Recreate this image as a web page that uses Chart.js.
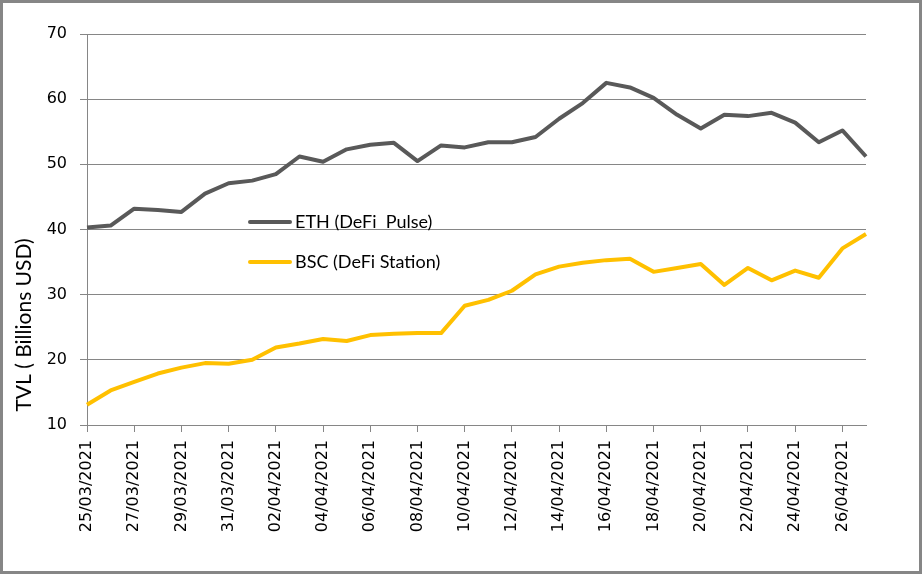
<!DOCTYPE html>
<html>
<head>
<meta charset="utf-8">
<script src="https://cdn.jsdelivr.net/npm/chart.js@4/dist/chart.umd.min.js"></script>
<style>
  html, body { margin: 0; padding: 0; background: #fff; }
  #wrap { width: 922px; height: 574px; position: relative; }
</style>
</head>
<body>
<div id="wrap"><canvas id="tvlChart" width="922" height="574"></canvas></div>
<script>
const dates = [
	'25/03/2021', '26/03/2021', '27/03/2021', '28/03/2021', '29/03/2021', '30/03/2021',
	'31/03/2021', '01/04/2021', '02/04/2021', '03/04/2021', '04/04/2021', '05/04/2021',
	'06/04/2021', '07/04/2021', '08/04/2021', '09/04/2021', '10/04/2021', '11/04/2021',
	'12/04/2021', '13/04/2021', '14/04/2021', '15/04/2021', '16/04/2021', '17/04/2021',
	'18/04/2021', '19/04/2021', '20/04/2021', '21/04/2021', '22/04/2021', '23/04/2021',
	'24/04/2021', '25/04/2021', '26/04/2021', '27/04/2021',
];

// TVL, billions USD
const ethTvl = [
	40.3, 40.6, 43.2, 43.0, 42.7, 45.5, 47.1, 47.5, 48.5, 51.2, 50.4, 52.3,
	53.0, 53.3, 50.5, 52.9, 52.6, 53.4, 53.4, 54.2, 57.0, 59.4, 62.5, 61.8,
	60.2, 57.6, 55.5, 57.6, 57.4, 57.9, 56.4, 53.4, 55.2, 51.2,
];
const bscTvl = [
	13.1, 15.3, 16.6, 17.9, 18.8, 19.5, 19.4, 20.0, 21.9, 22.5, 23.2, 22.9,
	23.8, 24.0, 24.1, 24.1, 28.3, 29.2, 30.6, 33.1, 34.3, 34.9, 35.3, 35.5,
	33.5, 34.1, 34.7, 31.5, 34.1, 32.2, 33.7, 32.6, 37.1, 39.3,
];

const yTicks = [10, 20, 30, 40, 50, 60, 70];
const axisGrey = '#868686';

// white background, outer frame, y title and the in-plot legend
const framePlugin = {
	id: 'frame',
	beforeDraw(chart) {
		const ctx = chart.ctx;
		ctx.save();
		ctx.fillStyle = '#fff';
		ctx.fillRect(0, 0, chart.width, chart.height);
		ctx.restore();
	},
	afterDraw(chart) {
		const ctx = chart.ctx;
		ctx.save();
		ctx.strokeStyle = axisGrey;
		ctx.lineWidth = 3;
		ctx.strokeRect(1.5, 1.5, chart.width - 3, chart.height - 3);

		ctx.fillStyle = '#000';
		ctx.font = '21px Lato';
		ctx.textAlign = 'center';
		ctx.textBaseline = 'middle';
		ctx.translate(24, 325);
		ctx.rotate(-Math.PI / 2);
		ctx.fillText('TVL ( Billions USD)', 0, 0);
		ctx.restore();

		ctx.save();
		const rows = [222, 262];
		chart.data.datasets.forEach(function(ds, i) {
			ctx.strokeStyle = ds.borderColor;
			ctx.lineWidth = ds.borderWidth;
			ctx.lineCap = 'round';
			ctx.beginPath();
			ctx.moveTo(250, rows[i]);
			ctx.lineTo(290, rows[i]);
			ctx.stroke();
			ctx.fillStyle = '#000';
			ctx.font = '18px Lato';
			ctx.textAlign = 'left';
			ctx.textBaseline = 'middle';
			ctx.fillText(ds.label, 295, rows[i]);
		});
		ctx.restore();
	}
};

const ctx = document.getElementById('tvlChart').getContext('2d');
const tvlChart = new Chart(ctx, {
	type: 'line',
	data: {
		labels: dates,
		datasets: [
			{
				label: 'ETH (DeFi  Pulse)',
				data: ethTvl,
				borderColor: '#595959',
				backgroundColor: '#595959',
				borderWidth: 4,
				pointRadius: 0,
				tension: 0,
				borderJoinStyle: 'round',
			},
			{
				label: 'BSC (DeFi Station)',
				data: bscTvl,
				borderColor: '#FFC000',
				backgroundColor: '#FFC000',
				borderWidth: 4,
				pointRadius: 0,
				tension: 0,
				borderJoinStyle: 'round',
			},
		],
	},
	options: {
		responsive: false,
		animation: false,
		devicePixelRatio: 1,
		layout: { padding: { top: 34, right: 56, left: 0, bottom: 0 } },
		plugins: {
			legend: { display: false },
			tooltip: { enabled: false },
		},
		scales: {
			x: {
				offset: false,
				afterFit: function(scale) { scale.height = 149; },
				grid: { drawOnChartArea: false, drawTicks: true, tickLength: 7, color: axisGrey },
				border: { color: axisGrey, width: 1 },
				ticks: {
					autoSkip: false,
					maxRotation: 90,
					minRotation: 90,
					padding: 8,
					color: '#000',
					font: { family: 'DejaVu Sans', size: 16 },
					callback: function(value, index) {
						return index % 2 === 0 ? this.getLabelForValue(value) : null;
					},
				},
			},
			y: {
				min: yTicks[0],
				max: yTicks[yTicks.length - 1],
				afterFit: function(scale) { scale.width = 87; },
				afterBuildTicks: function(scale) {
					scale.ticks = yTicks.map(function(v) { return { value: v }; });
				},
				grid: { color: axisGrey, lineWidth: 1, tickLength: 7 },
				border: { color: axisGrey, width: 1 },
				ticks: {
					padding: 13,
					color: '#000',
					font: { family: 'DejaVu Sans', size: 16 },
				},
			},
		},
	},
	plugins: [framePlugin],
});
</script>
</body>
</html>
